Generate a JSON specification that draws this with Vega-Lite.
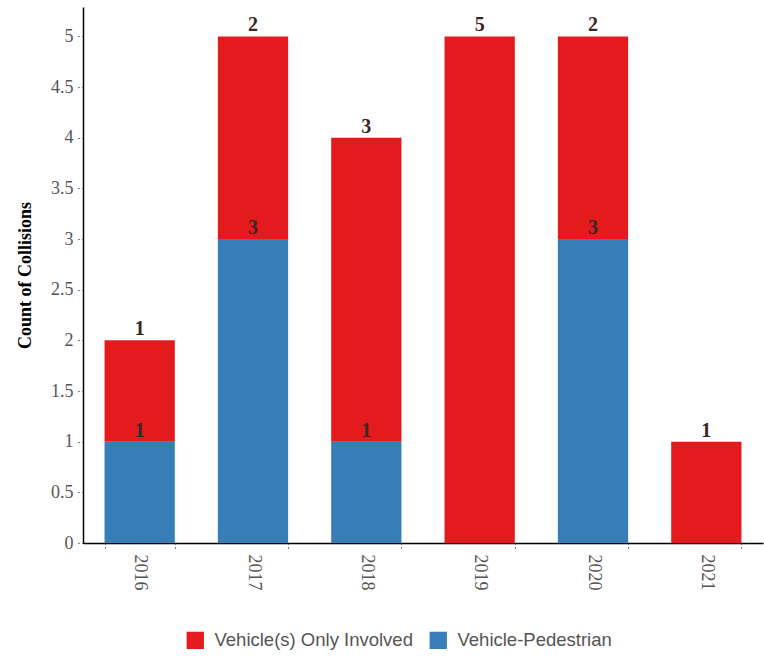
{
  "$schema": "https://vega.github.io/schema/vega-lite/v6.json",
  "width": 680,
  "height": 536,
  "autosize": "none",
  "padding": {"left": 83, "top": 7, "right": 1, "bottom": 115},
  "background": "white",
  "config": {"view": {"stroke": null}},
  "data": {
    "values": [
      {"year": "2016", "type": "Vehicle-Pedestrian", "count": 1, "ord": 1},
      {"year": "2016", "type": "Vehicle(s) Only Involved", "count": 1, "ord": 2},
      {"year": "2017", "type": "Vehicle-Pedestrian", "count": 3, "ord": 1},
      {"year": "2017", "type": "Vehicle(s) Only Involved", "count": 2, "ord": 2},
      {"year": "2018", "type": "Vehicle-Pedestrian", "count": 1, "ord": 1},
      {"year": "2018", "type": "Vehicle(s) Only Involved", "count": 3, "ord": 2},
      {"year": "2019", "type": "Vehicle(s) Only Involved", "count": 5, "ord": 2},
      {"year": "2020", "type": "Vehicle-Pedestrian", "count": 3, "ord": 1},
      {"year": "2020", "type": "Vehicle(s) Only Involved", "count": 2, "ord": 2},
      {"year": "2021", "type": "Vehicle(s) Only Involved", "count": 1, "ord": 2}
    ]
  },
  "encoding": {
    "x": {
      "field": "year", "type": "nominal",
      "scale": {"paddingInner": 0.38, "paddingOuter": 0.19},
      "axis": {
        "title": null, "labelAngle": 90, "labelAlign": "left", "labelBaseline": "middle",
        "labelFont": "Liberation Serif", "labelFontSize": 18, "labelColor": "#555",
        "labelPadding": 6,
        "domainColor": "#000", "domainWidth": 1.5,
        "tickBand": "extent", "tickColor": "#000", "tickSize": 5, "tickDash": [1, 3]
      }
    },
    "y": {
      "field": "count", "type": "quantitative",
      "aggregate": "sum",
      "stack": "zero",
      "scale": {"domain": [0, 5.29], "nice": false},
      "axis": {
        "title": "Count of Collisions", "titleFont": "Liberation Serif", "titleFontSize": 18,
        "titleFontWeight": "bold", "titleColor": "#000", "titlePadding": 16,
        "values": [0, 0.5, 1, 1.5, 2, 2.5, 3, 3.5, 4, 4.5, 5],
        "format": "~g",
        "labelFont": "Liberation Serif", "labelFontSize": 18, "labelColor": "#555",
        "labelPadding": 4, "grid": false,
        "domainColor": "#000", "domainWidth": 1.5,
        "tickColor": "#000", "tickSize": 6, "tickDash": [1, 3]
      }
    },
    "order": {"field": "ord", "type": "quantitative"}
  },
  "layer": [
    {
      "mark": {"type": "bar"},
      "encoding": {
        "color": {
          "field": "type", "type": "nominal",
          "scale": {"domain": ["Vehicle(s) Only Involved", "Vehicle-Pedestrian"], "range": ["#e41a1c", "#377eb8"]},
          "legend": {
            "title": null, "orient": "none", "direction": "horizontal",
            "legendX": 103, "legendY": 624,
            "symbolType": "square", "symbolSize": 300, "symbolStrokeWidth": 0,
            "labelFont": "Liberation Sans", "labelFontSize": 18.5, "labelColor": "#555",
            "labelLimit": 400,
            "columnPadding": 16, "labelOffset": 10
          }
        }
      }
    },
    {
      "mark": {"type": "text", "baseline": "bottom", "dy": -1, "font": "Liberation Serif", "fontSize": 20, "fontWeight": "bold", "color": "#3a2626"},
      "encoding": {
        "text": {"field": "count", "type": "quantitative", "aggregate": "sum"},
        "detail": {"field": "type"}
      }
    }
  ]
}
